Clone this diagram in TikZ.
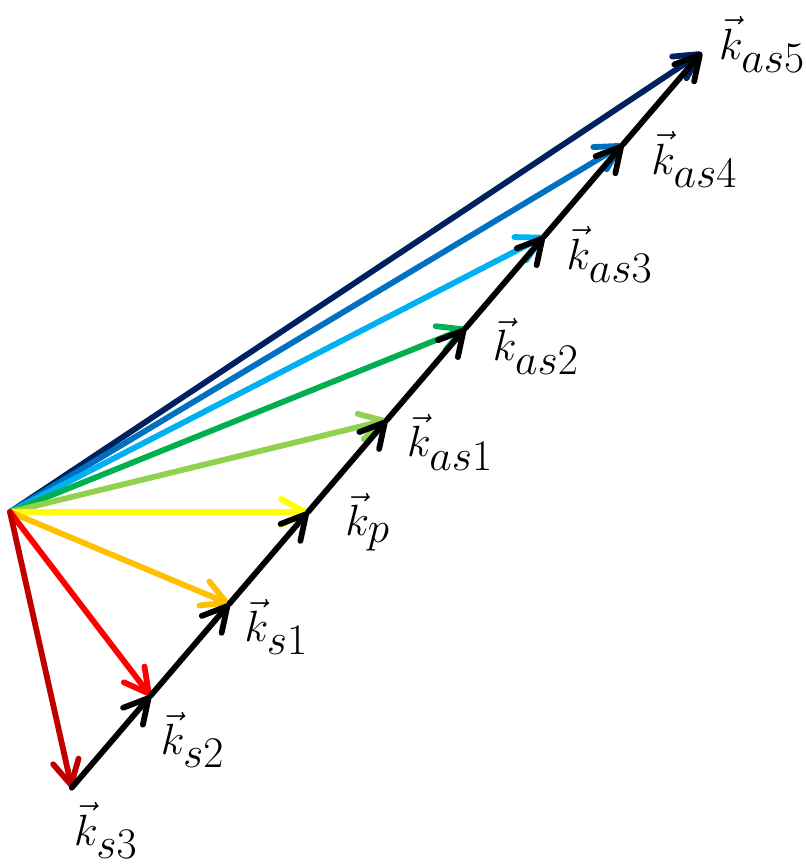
\documentclass[tikz,border=0pt]{standalone}
\usepackage{xcolor}
\definecolor{sthree}{HTML}{C00000}
\definecolor{stwo}{HTML}{FF0000}
\definecolor{sone}{HTML}{FFC000}
\definecolor{pump}{HTML}{FFFF00}
\definecolor{asone}{HTML}{92D050}
\definecolor{astwo}{HTML}{00B050}
\definecolor{asthree}{HTML}{00B0F0}
\definecolor{asfour}{HTML}{0070C0}
\definecolor{asfive}{HTML}{002060}
\usepackage{amsmath,amssymb}
\usepackage{tikz}
\usetikzlibrary{positioning,arrows.meta}
\newcommand{\kv}[1]{\ensuremath{\vec{k}_{#1}}}

\begin{document}
\begin{tikzpicture}[scale=1.0,
    every node/.style={font=\fontsize{33}{40}\selectfont},
    lbl/.style={inner sep=0pt},
    arr/.style={-{Straight Barb[length=4.8mm,width=5.2mm,round]},
                line width=3.3pt, line cap=round}]
  \useasboundingbox (-0.2,-7.06) rectangle (15.92,10.24);
  % wave vector tips
  \coordinate (O)   at (0,0);
  \coordinate (ks3) at (1.235,-5.514);
  \coordinate (ks2) at (2.81,-3.676);
  \coordinate (ks1) at (4.385,-1.838);
  \coordinate (kp)  at (5.96,0);
  \coordinate (kas1) at (7.535,1.838);
  \coordinate (kas2) at (9.11,3.676);
  \coordinate (kas3) at (10.685,5.514);
  \coordinate (kas4) at (12.26,7.352);
  \coordinate (kas5) at (13.835,9.19);
  % coloured vectors from the origin
  \draw[arr, asfive]  (O) -- (kas5);
  \draw[arr, asfour]  (O) -- (kas4);
  \draw[arr, asthree] (O) -- (kas3);
  \draw[arr, astwo]   (O) -- (kas2);
  \draw[arr, asone]   (O) -- (kas1);
  \draw[arr, pump]    (O) -- (kp);
  \draw[arr, sone]    (O) -- (ks1);
  \draw[arr, stwo]    (O) -- (ks2);
  \draw[arr, sthree]  (O) -- (ks3);
  % black chain
  \draw[arr] (ks3) -- (ks2);
  \draw[arr] (ks2) -- (ks1);
  \draw[arr] (ks1) -- (kp);
  \draw[arr] (kp) -- (kas1);
  \draw[arr] (kas1) -- (kas2);
  \draw[arr] (kas2) -- (kas3);
  \draw[arr] (kas3) -- (kas4);
  \draw[arr] (kas4) -- (kas5);
  % labels
  \node[lbl, right=0.04cm of ks3, yshift=-0.86cm] (Lks3) {\kv{s3}};
  \node[lbl, right=0.2cm of ks2, yshift=-0.88cm] (Lks2) {\kv{s2}};
  \node[lbl, right=0.3cm of ks1, yshift=-0.46cm] (Lks1) {\kv{s1}};
  \node[lbl, right=0.74cm of kp, yshift=-0.2cm] (Lkp) {\kv{p}};
  \node[lbl, right=0.4cm of kas1, yshift=-0.44cm] (Lkas1) {\kv{as1}};
  \node[lbl, right=0.54cm of kas2, yshift=-0.36cm] (Lkas2) {\kv{as2}};
  \node[lbl, right=0.44cm of kas3, yshift=-0.36cm] (Lkas3) {\kv{as3}};
  \node[lbl, right=0.56cm of kas4, yshift=-0.3cm] (Lkas4) {\kv{as4}};
  \node[lbl, right=0.34cm of kas5, yshift=0.16cm] (Lkas5) {\kv{as5}};
\end{tikzpicture}
\end{document}
